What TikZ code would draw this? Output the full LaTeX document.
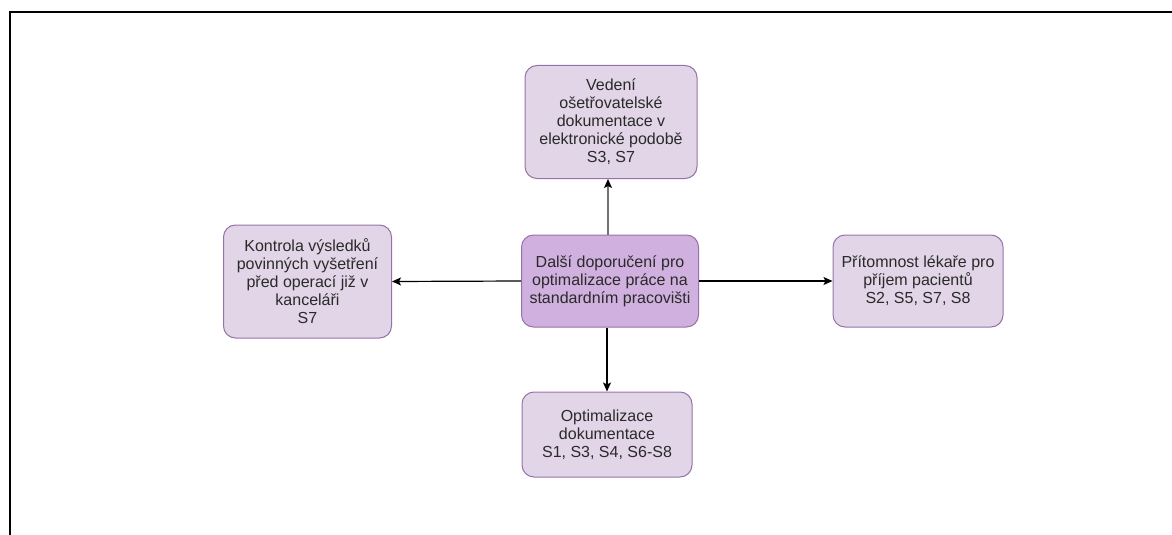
\documentclass[tikz,border=0pt]{standalone}
\usepackage{fontspec}
\setmainfont{Liberation Sans}
\usetikzlibrary{arrows.meta}
\definecolor{boxfill}{HTML}{E1D5E7}
\definecolor{boxline}{HTML}{9673A6}
\definecolor{mainfill}{HTML}{D0B0DE}
\definecolor{txt}{HTML}{2A2A2A}
\tikzset{
  card/.style={draw=boxline, line width=1pt, fill=boxfill, rounded corners=12pt,
    align=center, text=txt, inner sep=2pt,
    font=\fontsize{16}{18}\selectfont},
  maincard/.style={card, fill=mainfill},
  link/.style={draw=black, line width=1.2pt, -{Stealth[length=9pt,width=8pt,inset=2pt]}},
  frame/.style={draw=black, line width=1.6pt}
}
\begin{document}
\begin{tikzpicture}[x=1pt,y=-1pt]
\useasboundingbox (0,0) rectangle (1172,535);
\coordinate (f1) at (10,535);
\coordinate (f2) at (10,12);
\coordinate (f3) at (1172,12);
\draw[frame] (f1) -- (f2) -- (f3);

\node[maincard, minimum width=177pt, minimum height=92pt] (c) at (610,281)
  {Další doporučení pro\\optimalizace práce na\\standardním pracovišti};
\node[card, minimum width=172pt, minimum height=113pt] (t) at (611,122)
  {Vedení\\ošetřovatelské\\dokumentace v\\elektronické podobě\\S3, S7};
\node[card, minimum width=168pt, minimum height=113pt] (l) at (307.5,281.5)
  {Kontrola výsledků\\povinných vyšetření\\před operací již v\\kanceláři\\S7};
\node[card, minimum width=170pt, minimum height=92pt] (r) at (918,281)
  {Přítomnost lékaře pro\\příjem pacientů\\S2, S5, S7, S8};
\node[card, minimum width=170pt, minimum height=85pt] (b) at (607,434.5)
  {Optimalizace\\dokumentace\\S1, S3, S4, S6-S8};

\draw[link, draw=black!55, -{Stealth[length=9pt,width=8pt,inset=2pt,black]}] (c.north -| 608,0) -- (t.south -| 608,0);
\draw[link] (c.west) -- (l.east);
\draw[link] (c.east) -- (r.west);
\draw[link] (c.south -| b.north) -- (b.north);
\end{tikzpicture}
\end{document}
